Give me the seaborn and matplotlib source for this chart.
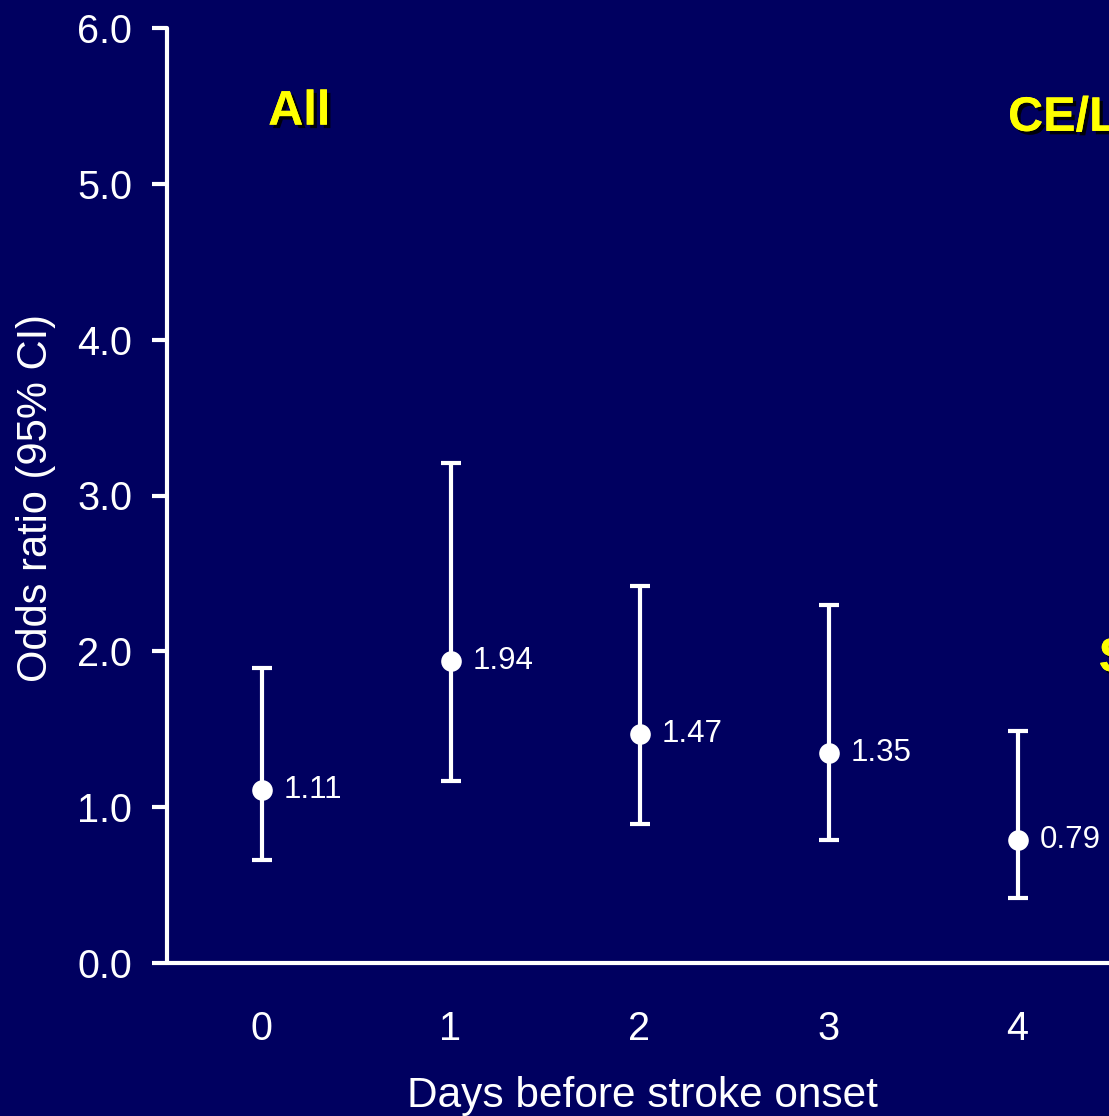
import matplotlib
matplotlib.use("Agg")
import matplotlib.pyplot as plt
import matplotlib.patheffects as pe
import seaborn as sns
import pandas as pd

days = [0, 1, 2, 3, 4]
odds_ratio = [1.11, 1.94, 1.47, 1.35, 0.79]
ci_lower = [0.66, 1.17, 0.89, 0.79, 0.42]
ci_upper = [1.89, 3.21, 2.42, 2.30, 1.49]
y_ticks = [0.0, 1.0, 2.0, 3.0, 4.0, 5.0, 6.0]
panel_titles = ["All", "CE/LAA", "SVO"]

navy = "#000060"
sns.set_theme(style="white")
plt.rcParams["font.family"] = ["Liberation Sans", "DejaVu Sans"]

df = pd.DataFrame({"day": days, "or": odds_ratio, "lo": ci_lower, "hi": ci_upper})

fig = plt.figure(figsize=(11.09, 11.16), dpi=100, facecolor=navy)
# the panel continues past the right edge of the figure
ax = fig.add_axes([167 / 1109, (1116 - 963) / 1116, 1.0, (963 - 28) / 1116])
ax.set_facecolor(navy)

ax.errorbar(df["day"], df["or"],
            yerr=[df["or"] - df["lo"], df["hi"] - df["or"]],
            fmt="none", ecolor="white", elinewidth=3, capsize=7.5, capthick=3, zorder=2)
sns.scatterplot(data=df, x="day", y="or", ax=ax, color="white", s=220,
                edgecolor="white", linewidth=0, zorder=3)

for x, v in zip(days, odds_ratio):
    ax.annotate(f"{v:.2f}", (x, v), xytext=(16, 0), textcoords="offset points",
                color="white", fontsize=22.5, va="center", ha="left")

ax.set_xlim(-0.5, -0.5 + 1109 / 189)
ax.set_ylim(0, 6)
ax.set_xticks(days)
ax.set_yticks(y_ticks)
ax.set_yticklabels([f"{t:.1f}" for t in y_ticks])

for s in ["top", "right"]:
    ax.spines[s].set_visible(False)
for s in ["left", "bottom"]:
    ax.spines[s].set_color("white")
    ax.spines[s].set_linewidth(3)
    ax.spines[s].set_capstyle("round")

ax.tick_params(axis="y", colors="white", labelsize=28.5, length=11, width=3,
               direction="out", left=True, pad=14)
ax.tick_params(axis="x", colors="white", labelsize=28.5, length=0, pad=34)

ax.set_xlabel("Days before stroke onset", color="white", fontsize=30.5)
ax.xaxis.set_label_coords((642 - 167) / 1109, -(1076 - 963) / 935)
ax.set_ylabel("Odds ratio (95% CI)", color="white", fontsize=30)
ax.yaxis.set_label_coords(-(167 - 56) / 1109, 0.5 - ((498 - 495.5) / 935))

shadow = [pe.withSimplePatchShadow(offset=(2.5, -2.5), shadow_rgbFace="black", alpha=0.9), pe.Normal()]
title_pos = [(0.2, 5.46, "center"), (3.95, 5.42, "left"), (4.43, 1.95, "left")]
for title, (tx, ty, ha) in zip(panel_titles, title_pos):
    ax.text(tx, ty, title, color="#FFFF00", fontsize=35, fontweight="bold",
            ha=ha, va="center", path_effects=shadow)

fig.savefig("out.png", dpi=100, facecolor=navy)
